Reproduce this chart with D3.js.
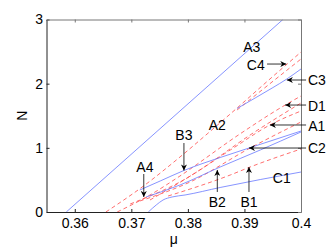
<!DOCTYPE html>
<html>
<head>
<meta charset="utf-8">
<script src="https://cdn.jsdelivr.net/npm/d3@7"></script>
<style>
  body { margin: 0; background: #fff; }
  text { font-family: "Liberation Sans", Arial, sans-serif; }
</style>
</head>
<body>
<div id="chart"></div>
<script>
// AXIS TICKS
const xTicks = [0.36, 0.37, 0.38, 0.39, 0.4];
const xTickLabels = ["0.36", "0.37", "0.38", "0.39", "0.4"];
const yTicks = [0, 1, 2, 3];
const yTickLabels = ["0", "1", "2", "3"];

// STABLE BRANCHES (solid blue), [mu, N]
const branchA3 = [[0.3585, 0], [0.3968, 3]];
const branchC1 = [[0.3730, 0], [0.3744, 0.109], [0.3756, 0.187], [0.3772, 0.234],
  [0.3795, 0.265], [0.3857, 0.382], [0.3928, 0.506], [0.4, 0.623]];
const branchC3 = [[0.3887, 1.613], [0.3919, 1.777], [0.3949, 1.932], [0.3975, 2.073], [0.4, 2.229]];
const branchB3 = [[0.3715, 0.343], [0.3751, 0.483], [0.3793, 0.647], [0.3857, 0.849],
  [0.3908, 0.997], [0.4, 1.262]];
const branchB2 = [[0.3726, 0.234], [0.3786, 0.421], [0.3857, 0.701], [0.3928, 0.966], [0.4, 1.247]];

// UNSTABLE BRANCHES (dashed red), [mu, N]
const branchC4 = [[0.3655, 0], [0.3724, 0.421], [0.3786, 0.857], [0.3834, 1.216],
  [0.3887, 1.621], [0.3931, 1.964], [0.4, 2.493]];
const branchC4b = [[0.3887, 1.590], [0.3931, 1.901], [0.4, 2.384]];
const branchD1 = [[0.3675, 0], [0.3733, 0.265], [0.3786, 0.561], [0.3892, 1.216],
  [0.3972, 1.667], [0.4, 1.808]];
const branchD1b = [[0.3733, 0.187], [0.3821, 0.655], [0.3910, 1.200], [0.4, 1.699]];
const branchA1 = [[0.3698, 0.125], [0.3786, 0.468], [0.3875, 0.966], [0.3945, 1.356], [0.4, 1.574]];
const branchX = [[0.3715, 0.171], [0.3804, 0.468], [0.3910, 0.997], [0.4, 1.403]];
const branchB1 = [[0.3765, 0.249], [0.3875, 0.577], [0.3910, 0.701], [0.4, 0.982]];

const stable = [branchA3, branchC1, branchC3, branchB3, branchB2];
const unstable = [branchC4, branchC4b, branchD1, branchD1b, branchA1, branchX, branchB1];

// LABELS: text, [mu, N] of text, arrow from/to (null = no arrow)
const labels = [
  { text: "A3", at: [0.3913, 2.493], arrow: null },
  { text: "C4", at: [0.3920, 2.213], arrow: [[0.3940, 2.306], [0.3974, 2.306]] },
  { text: "C3", at: [0.4028, 1.979], arrow: [[0.4009, 2.057], [0.3975, 2.057]] },
  { text: "D1", at: [0.4028, 1.574], arrow: [[0.4009, 1.667], [0.3972, 1.667]] },
  { text: "A2", at: [0.3852, 1.278], arrow: null },
  { text: "A1", at: [0.4028, 1.262], arrow: [[0.4009, 1.356], [0.3945, 1.356]] },
  { text: "B3", at: [0.3793, 1.122], arrow: [[0.3793, 1.075], [0.3793, 0.647]] },
  { text: "C2", at: [0.4028, 0.919], arrow: [[0.4009, 0.997], [0.3908, 0.997]] },
  { text: "A4", at: [0.3724, 0.623], arrow: [[0.3722, 0.592], [0.3722, 0.234]] },
  { text: "C1", at: [0.3966, 0.452], arrow: null },
  { text: "B2", at: [0.3852, 0.078], arrow: [[0.3852, 0.312], [0.3852, 0.655]] },
  { text: "B1", at: [0.3908, 0.078], arrow: [[0.3908, 0.312], [0.3908, 0.701]] },
];

const width = 332;
const height = 249;
const margin = { top: 19.5, right: 31, bottom: 37, left: 46.5 };
const innerW = width - margin.left - margin.right;
const innerH = height - margin.top - margin.bottom;

const svg = d3.select("#chart").append("svg")
  .attr("width", width).attr("height", height);

svg.append("defs").append("marker")
  .attr("id", "head")
  .attr("viewBox", "0 0 10 10")
  .attr("refX", 10).attr("refY", 5)
  .attr("markerUnits", "userSpaceOnUse")
  .attr("markerWidth", 7).attr("markerHeight", 6)
  .attr("orient", "auto")
  .append("path").attr("d", "M0,0 L10,5 L0,10 L3,5 Z").attr("fill", "#000");

const g = svg.append("g").attr("transform", `translate(${margin.left},${margin.top})`);

const xScale = d3.scaleLinear().domain([0.355, 0.4]).range([0, innerW]);
const yScale = d3.scaleLinear().domain([0, 3]).range([innerH, 0]);

const clip = svg.select("defs").append("clipPath").attr("id", "plot");
clip.append("rect").attr("width", innerW).attr("height", innerH);

const line = d3.line()
  .x((d) => xScale(d[0]))
  .y((d) => yScale(d[1]))
  .curve(d3.curveMonotoneX);

const curves = g.append("g").attr("clip-path", "url(#plot)");

curves.selectAll("path.unstable")
  .data(unstable)
  .join("path")
  .attr("class", "unstable")
  .attr("d", line)
  .attr("fill", "none")
  .attr("stroke", "#ff4a4a")
  .attr("stroke-width", 0.8)
  .attr("stroke-dasharray", "4,3");

curves.selectAll("path.stable")
  .data(stable)
  .join("path")
  .attr("class", "stable")
  .attr("d", line)
  .attr("fill", "none")
  .attr("stroke", "#6878ff")
  .attr("stroke-width", 0.8);

// AXES (box with inward ticks)
const styleAxis = (sel, color) => {
  sel.select(".domain").attr("stroke", color);
  sel.selectAll(".tick line").attr("stroke", color);
  sel.selectAll(".tick text").attr("fill", "#000").attr("font-size", 14)
    .attr("font-family", "'Liberation Sans', Arial, sans-serif");
};

g.append("g")
  .attr("transform", `translate(0,${innerH})`)
  .call(d3.axisBottom(xScale).tickValues(xTicks)
    .tickFormat((d, i) => xTickLabels[i]).tickSizeInner(-3).tickSizeOuter(0).tickPadding(6))
  .call(styleAxis, "#222");

g.append("g")
  .call(d3.axisLeft(yScale).tickValues(yTicks)
    .tickFormat((d, i) => yTickLabels[i]).tickSizeInner(-3).tickSizeOuter(0).tickPadding(3.5))
  .call(styleAxis, "#222");

g.append("g")
  .call(d3.axisTop(xScale).tickValues(xTicks).tickFormat("").tickSizeInner(-3).tickSizeOuter(0))
  .call(styleAxis, "#777");

g.append("g")
  .attr("transform", `translate(${innerW},0)`)
  .call(d3.axisRight(yScale).tickValues(yTicks).tickFormat("").tickSizeInner(-3).tickSizeOuter(0))
  .call(styleAxis, "#777");

// AXIS TITLES
svg.append("text")
  .attr("x", margin.left + innerW / 2)
  .attr("y", 244)
  .attr("text-anchor", "middle")
  .attr("font-size", 14)
  .text("μ");

svg.append("text")
  .attr("transform", `translate(27,${margin.top + innerH / 2}) rotate(-90)`)
  .attr("text-anchor", "middle")
  .attr("font-size", 14)
  .text("N");

// ANNOTATIONS
const notes = svg.append("g").attr("transform", `translate(${margin.left},${margin.top})`);

notes.selectAll("line")
  .data(labels.filter((d) => d.arrow))
  .join("line")
  .attr("x1", (d) => xScale(d.arrow[0][0]))
  .attr("y1", (d) => yScale(d.arrow[0][1]))
  .attr("x2", (d) => xScale(d.arrow[1][0]))
  .attr("y2", (d) => yScale(d.arrow[1][1]))
  .attr("stroke", "#000")
  .attr("stroke-width", 0.8)
  .attr("marker-end", "url(#head)");

notes.selectAll("text")
  .data(labels)
  .join("text")
  .attr("x", (d) => xScale(d.at[0]))
  .attr("y", (d) => yScale(d.at[1]))
  .attr("text-anchor", "middle")
  .attr("font-size", 14)
  .attr("fill", "#000")
  .text((d) => d.text);
</script>
</body>
</html>
